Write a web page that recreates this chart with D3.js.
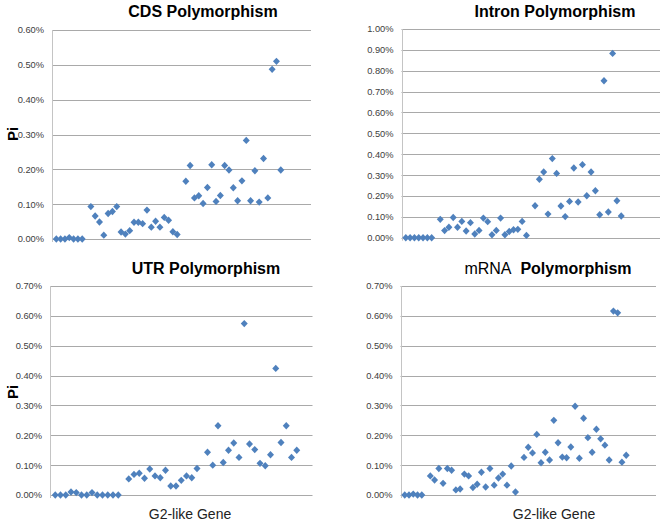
<!DOCTYPE html>
<html><head><meta charset="utf-8">
<script src="https://cdn.jsdelivr.net/npm/d3@7"></script>
<style>
html,body{margin:0;padding:0;background:#fff;}
svg{display:block;font-family:Arial,"Liberation Sans",sans-serif;}
</style></head>
<body><svg id="chart" width="660" height="522"></svg>
<script>
// Pi values (%) by gene index 1..N; null = no point
const cdsPi = [0,0,0,0.004,0,0,0,null,0.093,0.066,0.049,0.011,0.073,0.079,0.093,0.020,0.014,0.024,0.048,0.048,0.044,0.083,0.034,0.051,0.034,0.062,0.054,0.021,0.013,null,0.166,0.211,0.118,0.124,0.102,0.148,0.213,0.108,0.125,0.211,0.198,0.147,0.110,0.167,0.283,0.110,0.196,0.106,0.231,0.118,0.487,0.510,0.198];
const intronPi = [0,0,0,0,0,0,0,null,0.088,0.034,0.050,0.097,0.050,0.078,0.032,0.072,0.018,0.035,0.094,0.077,0.014,0.035,0.094,0.014,0.030,0.038,0.040,0.078,0.011,null,0.153,0.280,0.315,0.113,0.379,0.308,0.152,0.101,0.174,0.334,0.171,0.350,0.201,0.315,0.225,0.110,0.752,0.123,0.883,0.177,0.104];
const utrPi = [0,0,0,0.010,0.008,0,0,0.008,0,0,0,0,0,null,0.054,0.069,0.073,0.056,0.087,0.064,0.058,0.083,0.030,0.030,0.049,0.064,0.058,0.089,null,0.143,0.100,0.232,0.109,0.150,0.174,0.126,0.574,0.171,0.152,0.106,0.098,0.135,0.424,0.176,0.232,0.126,0.150];
const mrnaPi = [0,0,0.003,0,0,null,0.064,0.050,0.089,0.039,0.089,0.083,0.017,0.020,0.070,0.064,0.025,0.036,0.076,0.027,0.089,0.033,0.057,0.070,0.033,0.097,0.010,null,0.126,0.160,0.141,0.203,0.108,0.143,0.117,0.250,0.175,0.127,0.125,0.161,0.297,0.123,0.257,0.192,0.143,0.220,0.188,0.167,0.117,0.616,0.610,0.110,0.133];

const cdsTicks = [0,0.1,0.2,0.3,0.4,0.5,0.6];
const intronTicks = [0,0.1,0.2,0.3,0.4,0.5,0.6,0.7,0.8,0.9,1.0];
const utrTicks = [0,0.1,0.2,0.3,0.4,0.5,0.6,0.7];
const mrnaTicks = [0,0.1,0.2,0.3,0.4,0.5,0.6,0.7];

const titles = ["CDS Polymorphism","Intron Polymorphism","UTR Polymorphism","mRNA Polymorphism"];
const yTitle = "Pi";
const xTitle = "G2-like Gene";

const panels = [
  {data:cdsPi, ticks:cdsTicks, xMax:60, x0:52, x1:311, yT:30, yB:239, title:titles[0], tx:203, ty:17, pi:[12,134]},
  {data:intronPi, ticks:intronTicks, xMax:60, x0:401.5, x1:660, yT:29, yB:237.7, title:titles[1], tx:555, ty:17},
  {data:utrPi, ticks:utrTicks, xMax:50, x0:50, x1:312.5, yT:286, yB:495, title:titles[2], tx:206, ty:274, pi:[12,392], xl:[190,519]},
  {data:mrnaPi, ticks:mrnaTicks, xMax:60, x0:400.5, x1:656, yT:286, yB:495, title:titles[3], tx:548, ty:274, xl:[554,519], mixed:true}
];

const svg = d3.select("#chart");
const color = "#4f81bd";
const fmt = d => d.toFixed(2) + "%";

panels.forEach(p => {
  const x = d3.scaleLinear().domain([0, p.xMax]).range([p.x0, p.x1]);
  const y = d3.scaleLinear().domain([0, d3.max(p.ticks)]).range([p.yB, p.yT]);
  const g = svg.append("g");

  // gridlines
  g.append("g").selectAll("line").data(p.ticks).join("line")
    .attr("x1", p.x0).attr("x2", p.x1)
    .attr("y1", d => Math.round(y(d)) + 0.5).attr("y2", d => Math.round(y(d)) + 0.5)
    .attr("stroke", "#a9a9a9").attr("stroke-width", 1);
  // vertical axis line
  g.append("line").attr("x1", Math.round(p.x0)+0.5).attr("x2", Math.round(p.x0)+0.5)
    .attr("y1", p.yT).attr("y2", p.yB+3).attr("stroke", "#c4c4c4");

  // y axis labels
  const ax = d3.axisLeft(y).tickValues(p.ticks).tickFormat(fmt).tickSize(0).tickPadding(8);
  const axg = g.append("g").attr("transform", `translate(${p.x0},0)`).call(ax);
  axg.select(".domain").remove();
  axg.selectAll("text").attr("font-size", "9.3px").attr("fill", "#404040")
     .attr("font-family", "Arial, 'Liberation Sans', sans-serif");

  // points
  const pts = p.data.map((v, i) => ({i: i + 1, v})).filter(d => d.v !== null);
  g.append("g").selectAll("path").data(pts).join("path")
    .attr("transform", d => `translate(${x(d.i)},${y(d.v)})`)
    .attr("d", "M0,-3.7L3.5,0L0,3.7L-3.5,0Z")
    .attr("fill", color);

  // title
  const t = g.append("text").attr("x", p.tx).attr("y", p.ty).attr("text-anchor", "middle")
    .attr("font-size", "16px").attr("fill", "#000");
  if (p.mixed) {
    const parts = p.title.split(" ");
    t.append("tspan").attr("font-weight", "normal").text(parts[0] + "\u00a0\u00a0");
    t.append("tspan").attr("font-weight", "bold").text(parts[1]);
  } else {
    t.attr("font-weight", "bold").text(p.title);
  }

  if (p.pi) {
    g.append("text").attr("transform", `translate(${p.pi[0]},${p.pi[1]}) rotate(-90)`)
      .attr("text-anchor", "middle").attr("dominant-baseline", "central")
      .attr("font-size", "15px").attr("font-weight", "bold").text(yTitle);
  }
  if (p.xl) {
    g.append("text").attr("x", p.xl[0]).attr("y", p.xl[1]).attr("text-anchor", "middle")
      .attr("font-size", "14px").attr("fill", "#222").text(xTitle);
  }
});
</script>
</body></html>
